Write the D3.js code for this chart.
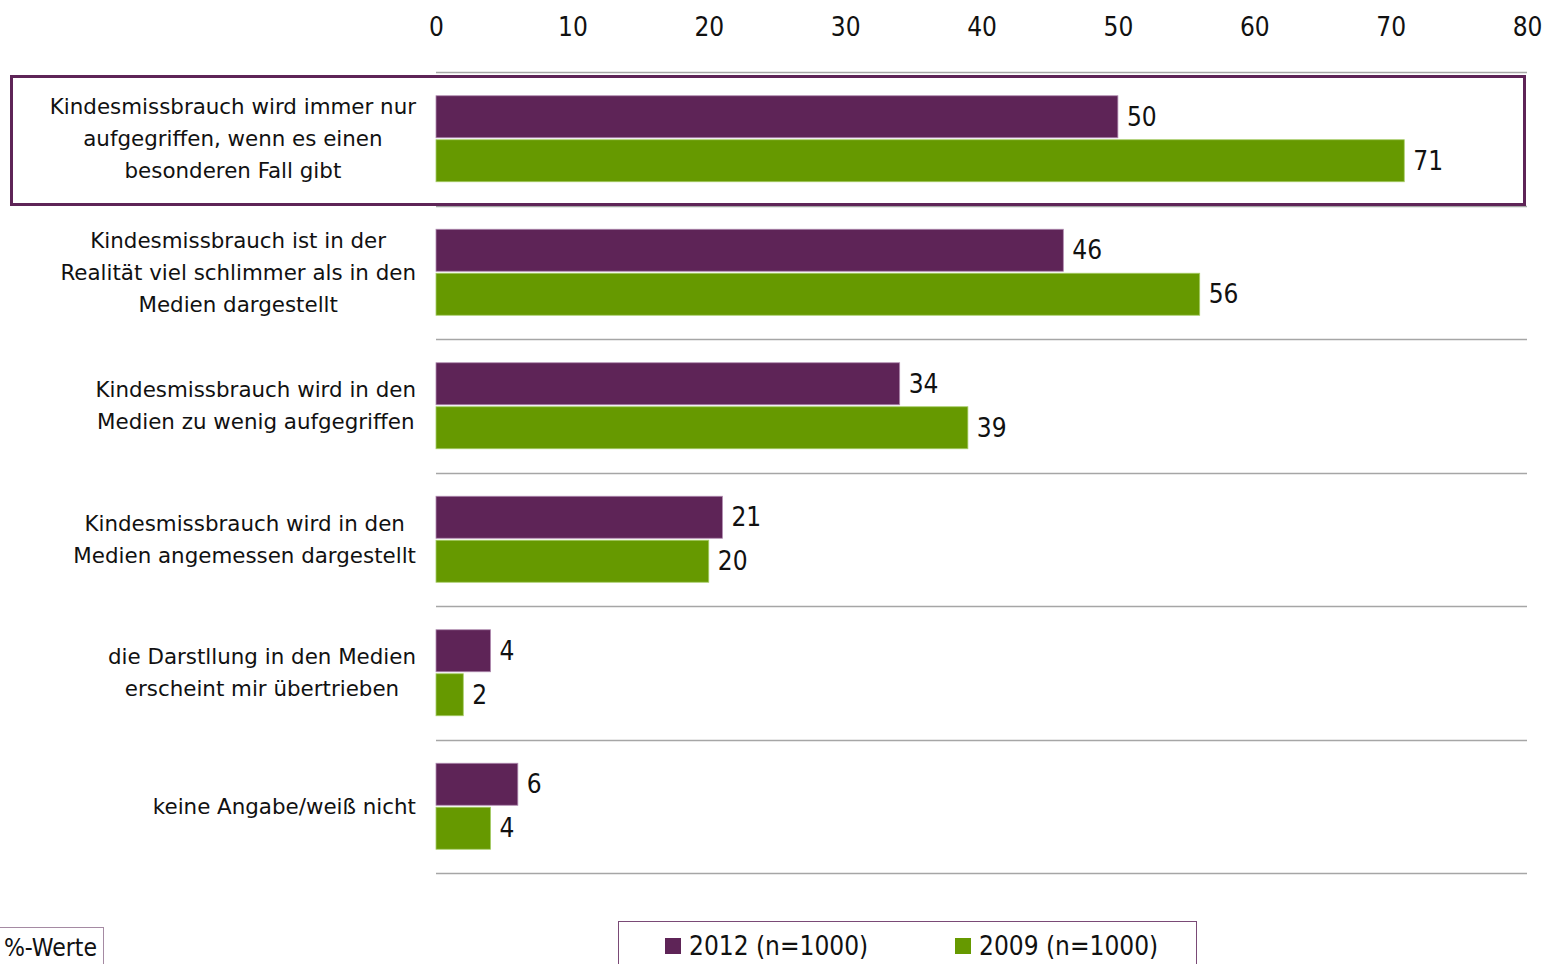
<!DOCTYPE html>
<html>
<head>
<meta charset="utf-8">
<script src="https://cdn.jsdelivr.net/npm/d3@7"></script>
<style>
  html, body { margin: 0; padding: 0; background: #fff; overflow: hidden; }
  svg { display: block; }
  text { font-family: "DejaVu Sans Condensed", "DejaVu Sans", sans-serif; fill: #111; }
</style>
</head>
<body>
<svg id="chart" width="1546" height="964"></svg>
<script>
// Statements about media coverage of child abuse, share in percent
const categories = [
  ["Kindesmissbrauch wird immer nur", "aufgegriffen, wenn es einen", "besonderen Fall gibt"],
  ["Kindesmissbrauch ist in der", "Realität viel schlimmer als in den", "Medien dargestellt"],
  ["Kindesmissbrauch wird in den", "Medien zu wenig aufgegriffen"],
  ["Kindesmissbrauch wird in den", "Medien angemessen dargestellt"],
  ["die Darstllung in den Medien", "erscheint mir übertrieben"],
  ["keine Angabe/weiß nicht"]
];
const seriesNames = ["2012 (n=1000)", "2009 (n=1000)"];
const values2012 = [50, 46, 34, 21, 4, 6];
const values2009 = [71, 56, 39, 20, 2, 4];
const tickValues = [0, 10, 20, 30, 40, 50, 60, 70, 80];
const unitLabel = "%-Werte";

const colors = ["#5E2457", "#669900"];
const edgeColors = ["#B08AB0", "#A6CC66"];

const svg = d3.select("#chart");

const x = d3.scaleLinear().domain([0, 80]).range([436, 1527]);
const rows = d3.range(categories.length);
const y = d3.scaleBand().domain(rows).range([72, 873]).padding(0);
const ySub = d3.scaleBand().domain([0, 1]).range([0, y.bandwidth()])
  .paddingInner(0.045).paddingOuter(0.54);

// top axis with tick labels only
const axis = d3.axisTop(x).tickValues(tickValues).tickSize(0).tickPadding(0);
const gAxis = svg.append("g").attr("transform", "translate(0,27)").call(axis);
gAxis.select(".domain").remove();
gAxis.selectAll("text")
  .attr("dy", "0.35em")
  .attr("y", 0)
  .style("font-size", "26px")
  .style("font-family", "'DejaVu Sans Condensed', 'DejaVu Sans', sans-serif")
  .attr("fill", "#111");

// horizontal separators between categories
const seps = [72].concat(rows.map(i => y(i) + y.bandwidth()));
svg.append("g").selectAll("line").data(seps).join("line")
  .attr("x1", x(0)).attr("x2", x(80))
  .attr("y1", d => Math.round(d) + 0.5).attr("y2", d => Math.round(d) + 0.5)
  .attr("stroke", "#A6A6A6").attr("stroke-width", 1.3);

// highlight frame around the first statement
svg.append("rect")
  .attr("x", 11.5).attr("y", 76.5)
  .attr("width", 1513).attr("height", 128)
  .attr("fill", "#fff")
  .attr("stroke", colors[0]).attr("stroke-width", 3);

// bars
const seriesValues = [values2012, values2009];
seriesValues.forEach((vals, s) => {
  const g = svg.append("g");
  g.selectAll("rect").data(vals).join("rect")
    .attr("x", x(0))
    .attr("y", (d, i) => y(i) + ySub(s))
    .attr("width", d => x(d) - x(0))
    .attr("height", ySub.bandwidth())
    .attr("fill", colors[s])
    .attr("stroke", edgeColors[s]).attr("stroke-width", 0.8);
  g.selectAll("text").data(vals).join("text")
    .attr("x", d => x(d) + 9)
    .attr("y", (d, i) => y(i) + ySub(s) + ySub.bandwidth() / 2)
    .attr("dy", "0.35em")
    .style("font-size", "26px")
    .text(d => d);
});

// category labels: centred lines, block right-aligned at 416
const labelRight = 416;
const lineH = 32;
categories.forEach((lines, i) => {
  const cy = y(i) + y.bandwidth() / 2;
  const t = svg.append("text")
    .attr("text-anchor", "middle")
    .style("font-family", "'DejaVu Sans', sans-serif")
    .style("font-size", "21.4px");
  const n = lines.length;
  const spans = lines.map((ln, k) => t.append("tspan")
    .attr("y", cy + (k - (n - 1) / 2) * lineH)
    .attr("dy", "0.35em")
    .text(ln));
  const maxW = d3.max(spans, sp => sp.node().getComputedTextLength());
  spans.forEach(sp => sp.attr("x", labelRight - maxW / 2));
});

// legend
const legend = svg.append("g");
legend.append("rect")
  .attr("x", 618.5).attr("y", 921.5).attr("width", 578).attr("height", 60)
  .attr("fill", "none").attr("stroke", "#7A4A76").attr("stroke-width", 1);
const legendX = [665, 955];
seriesNames.forEach((name, s) => {
  legend.append("rect")
    .attr("x", legendX[s]).attr("y", 938).attr("width", 16).attr("height", 16)
    .attr("fill", colors[s]);
  legend.append("text")
    .attr("x", legendX[s] + 24).attr("y", 946).attr("dy", "0.35em")
    .style("font-size", "26px")
    .text(name);
});

// unit note box
svg.append("rect")
  .attr("x", -10).attr("y", 927.5).attr("width", 113.5).attr("height", 60)
  .attr("fill", "none").attr("stroke", "#A58AA3").attr("stroke-width", 1);
svg.append("text")
  .attr("x", 97).attr("y", 947).attr("dy", "0.35em")
  .attr("text-anchor", "end")
  .style("font-size", "24.5px")
  .text(unitLabel);
</script>
</body>
</html>
